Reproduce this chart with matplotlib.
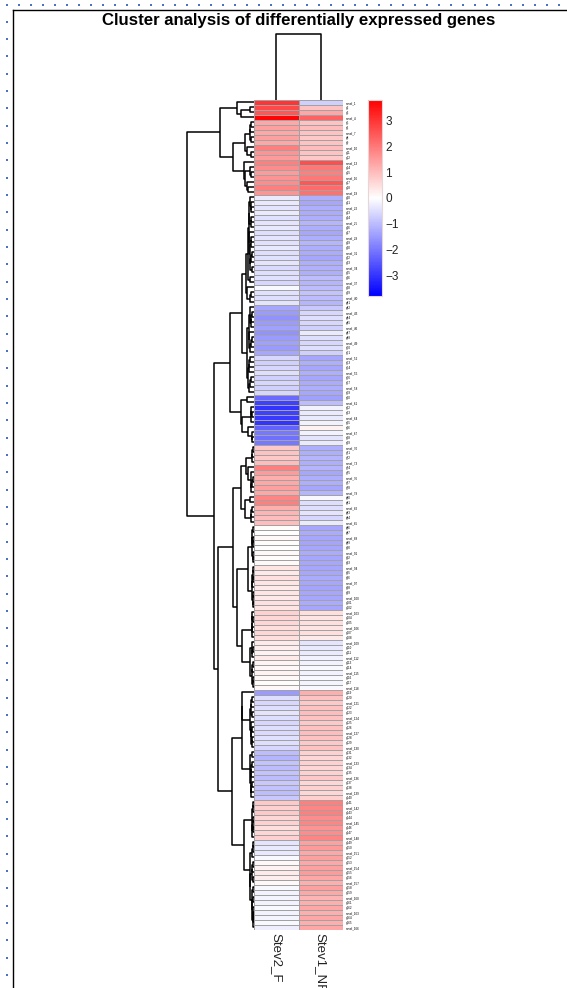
import numpy as np
import matplotlib
matplotlib.use('Agg')
import matplotlib.pyplot as plt
from matplotlib.lines import Line2D
from matplotlib.patches import Rectangle

plt.rcParams['font.family'] = ['Liberation Sans', 'DejaVu Sans']

W, H = 567, 988

# ---------------- data ----------------
samples = ['Stev2_F', 'Stev1_NF']

stev2_f = [3.0, 2.7, 2.5, 3.7,
           1.3, 1.4, 1.3, 1.4, 1.3, 1.9, 1.6, 1.5,
           1.9, 1.7, 1.5, 1.6, 1.7, 1.9, 1.6,
           -0.3, -0.35, -0.4, -0.3, -0.45, -0.4, -0.35, -0.5, -0.4, -0.45, -0.35,
           -0.5, -0.45, -0.4, -0.55, -0.5, -0.45, -0.6, -0.1, -0.45, -0.5, -0.4,
           -1.3, -1.5, -1.6, -1.5, -1.4, -1.6, -1.5, -1.4, -1.5, -1.3,
           -0.6, -0.7, -0.6, -0.5, -0.7, -0.6, -0.7, -0.6,
           -2.2, -2.8, -3.0, -2.8, -2.9, -3.0, -2.3, -2.0, -2.1, -2.0,
           0.8, 0.9, 0.8, 1.0, 1.9, 1.5, 1.2, 1.3, 1.4, 1.3, 1.8, 1.9, 1.2, 1.1, 1.0, 1.0,
           0.05, 0.0, 0.1, 0.05, 0.0, 0.1, 0.05, 0.1,
           0.4, 0.35, 0.45, 0.4, 0.3, 0.4, 0.35, 0.45, 0.4,
           0.7, 0.6, 0.6, 0.5, 0.6, 0.5,
           0.3, 0.25, 0.2, 0.3, 0.15, 0.1, 0.2, 0.1, 0.05, 0.1,
           -1.5,
           -0.5, -0.6, -0.5, -0.4, -0.5, -0.6, -0.5, -0.55, -0.45, -0.5, -0.6,
           -1.0, -1.1, -0.9, -1.0, -0.9, -1.0, -0.8, -0.9, -1.0, -0.8,
           0.8, 0.7, 0.8, 0.6, 0.7, 0.5, 0.6, 0.7,
           -0.4, -0.3, -0.35, -0.1,
           0.1, 0.2, 0.3, 0.25, 0.1, -0.1, -0.2, -0.15, -0.2, -0.1, -0.2, -0.15, -0.1, -0.25]

stev1_nf = [-0.7, 0.9, 1.3, 2.3,
            0.9, 1.0, 0.9, 0.8, 0.9, 1.0, 0.9, 0.8,
            2.6, 2.0, 1.9, 2.0, 2.5, 2.2, 2.1,
            -1.2, -1.3, -1.2, -1.25, -1.2, -1.1, -1.2, -1.3, -1.2, -1.1, -1.2,
            -1.25, -1.3, -1.2, -1.15, -1.2, -1.0, -1.1, -1.0, -0.9, -1.0, -1.1,
            -0.8, -0.6, -0.5, -0.6, -0.7, -0.3, -0.5, -0.6, -0.5, -0.7,
            -1.3, -1.2, -1.3, -1.2, -1.3, -1.25, -1.2, -1.3,
            -1.4, -1.0, -0.2, -0.3, -0.3, -0.2, 0.2, -0.2, -0.4, -0.3,
            -1.2, -1.2, -1.1, -1.2, -1.1, -1.3, -1.2, -1.2, -1.3, -1.1, -0.1, -0.5, -0.5, -0.4, -0.6, -0.3,
            -1.3, -1.25, -1.3, -1.35, -1.3, -1.25, -1.3, -1.3,
            -1.3, -1.3, -1.25, -1.3, -1.35, -1.3, -1.3, -1.25, -1.3,
            0.5, 0.4, 0.5, 0.4, 0.5, 0.3,
            -0.4, -0.3, -0.3, -0.2, -0.2, -0.1, -0.2, -0.1, -0.15, -0.1,
            1.2,
            0.9, 0.8, 0.9, 1.0, 0.9, 0.8, 0.9, 1.0, 0.9, 0.8, 0.9,
            0.7, 0.6, 0.7, 0.6, 0.7, 0.8, 0.6, 0.7, 0.6, 0.7,
            1.9, 1.8, 1.9, 1.7, 1.8, 1.6, 1.7, 1.8,
            1.4, 1.5, 1.3, 1.4,
            1.3, 1.4, 1.5, 1.3, 1.2, 1.4, 1.3, 1.1, 1.2, 1.3, 1.2, 1.3, 1.2, 1.3]

# gene identifiers (unreadable in the source, placeholders)
gene_ids = [("novel_%d" % (i + 1)) if i % 3 == 0 else ("g%d" % (i + 1)) for i in range(len(stev2_f))]

# row-cluster tree: (merge height, left, right); leaf groups [first_row, last_row, group height]
row_tree = (67, (34, [0, 3, 17], (21, [4, 11, 9], [12, 18, 10])),
                (40, (24, (12, [19, 40, 8], (7, [41, 50, 5], [51, 58, 6])), [59, 68, 13]),
                     (36, (21, [69, 84, 13], (17, [85, 101, 6], [102, 117, 12])),
                          (22, [118, 139, 12], [140, 165, 10]))))
col_tree_height = 66

vlim = 3.77
cbar_ticks = [-3, -2, -1, 0, 1, 2, 3]

# ---------------- helpers ----------------
data = np.column_stack([stev2_f, stev1_nf])
nrows = data.shape[0]


def px_axes(fig, x0, y0, x1, y1):
    return fig.add_axes([x0 / W, 1 - y1 / H, (x1 - x0) / W, (y1 - y0) / H])


segments = []


def build_group(first, last, top):
    """adjacent agglomeration inside a leaf group; returns (y, h) of group root"""
    clusters = [dict(y=i + 0.5, h=0.0, n=1, m=data[i].copy()) for i in range(first, last + 1)]
    merges = []
    while len(clusters) > 1:
        best, bk = None, 0
        for k in range(len(clusters) - 1):
            a, b = clusters[k], clusters[k + 1]
            d = np.linalg.norm(a['m'] - b['m']) * np.sqrt(a['n'] * b['n'] / (a['n'] + b['n']))
            if best is None or d < best:
                best, bk = d, k
        a, b = clusters[bk], clusters[bk + 1]
        h = max(best, a['h'], b['h']) + 0.03
        n = a['n'] + b['n']
        c = dict(y=(a['y'] + b['y']) / 2, h=h, n=n, m=(a['m'] * a['n'] + b['m'] * b['n']) / n)
        merges.append((a['y'], a['h'], b['y'], b['h'], c['y'], h))
        clusters[bk:bk + 2] = [c]
    if not merges:
        return clusters[0]['y'], 0.0
    hmax = clusters[0]['h']
    sc = lambda v: top * (v / hmax) ** 0.8 if hmax > 0 else 0
    for ya, ha, yb, hb, yc, hc in merges:
        segments.append(([sc(ha), sc(hc), sc(hc), sc(hb)], [ya, ya, yb, yb]))
    return clusters[0]['y'], top


def build(node):
    if isinstance(node, list):
        return build_group(*node)
    h, left, right = node
    yl, hl = build(left)
    yr, hr = build(right)
    segments.append(([hl, h, h, hr], [yl, yl, yr, yr]))
    return (yl + yr) / 2, h


build(row_tree)

# ---------------- figure ----------------
fig = plt.figure(figsize=(W / 100, H / 100), dpi=100)
fig.patch.set_facecolor('white')

# page frame
fig.add_artist(Line2D([12.7 / W, 1.0], [1 - 10 / H, 1 - 10 / H], color='black', lw=1.0))
fig.add_artist(Line2D([12.7 / W, 12.7 / W], [1 - 10 / H, 0.0], color='black', lw=1.0))
for x in np.arange(6.5, W, 12.0):
    fig.add_artist(Rectangle(((x - 1) / W, 1 - 6.4 / H), 2 / W, 2 / H, color='#4a72c0', lw=0))
for y in np.arange(21.7, H, 17.33):
    fig.add_artist(Rectangle((5.5 / W, 1 - (y + 1) / H), 2 / W, 2 / H, color='#4a72c0', lw=0))

# title
fig.text(298.5 / W, 1 - 20 / H, 'Cluster analysis of differentially expressed genes',
         ha='center', va='center', fontsize=12.1, fontweight='bold', color='black')

# heatmap
ax = px_axes(fig, 254, 100, 343, 930)
mesh = ax.pcolormesh(np.arange(3), np.arange(nrows + 1), data, cmap='bwr', vmin=-vlim, vmax=vlim,
                     edgecolors='#a2a2a2', linewidth=0.62)
ax.set_xlim(0, 2)
ax.set_ylim(nrows, 0)
for s in ax.spines.values():
    s.set_visible(False)
ax.set_xticks([0.5, 1.5])
ax.set_xticklabels(samples, rotation=-90, fontsize=9.5, color='#222222')
ax.tick_params(axis='x', length=0, pad=2)
ax.yaxis.tick_right()
ax.set_yticks(np.arange(nrows) + 0.5)
ax.set_yticklabels(gene_ids, fontsize=2.2, color='black')
ax.tick_params(axis='y', length=0, pad=2)

# row dendrogram
axd = px_axes(fig, 186, 100, 254, 930)
for xs, ys in segments:
    axd.plot(xs, ys, color='black', lw=1.1, solid_capstyle='butt')
axd.set_xlim(68, 0)
axd.set_ylim(nrows, 0)
axd.axis('off')

# column dendrogram
axc = px_axes(fig, 254, 30, 343, 100)
axc.plot([0.5, 0.5, 1.5, 1.5], [0, col_tree_height, col_tree_height, 0], color='black', lw=1.1)
axc.set_xlim(0, 2)
axc.set_ylim(0, 70)
axc.axis('off')

# colorbar
cax = px_axes(fig, 368, 100, 382, 296)
cb = fig.colorbar(mesh, cax=cax, ticks=cbar_ticks)
cb.outline.set_edgecolor('#e6d6d6')
cb.outline.set_linewidth(0.8)
cax.tick_params(length=0, pad=2.5, labelsize=8.5, labelcolor='#222222')

fig.savefig('out.png', dpi=100, facecolor='white')
